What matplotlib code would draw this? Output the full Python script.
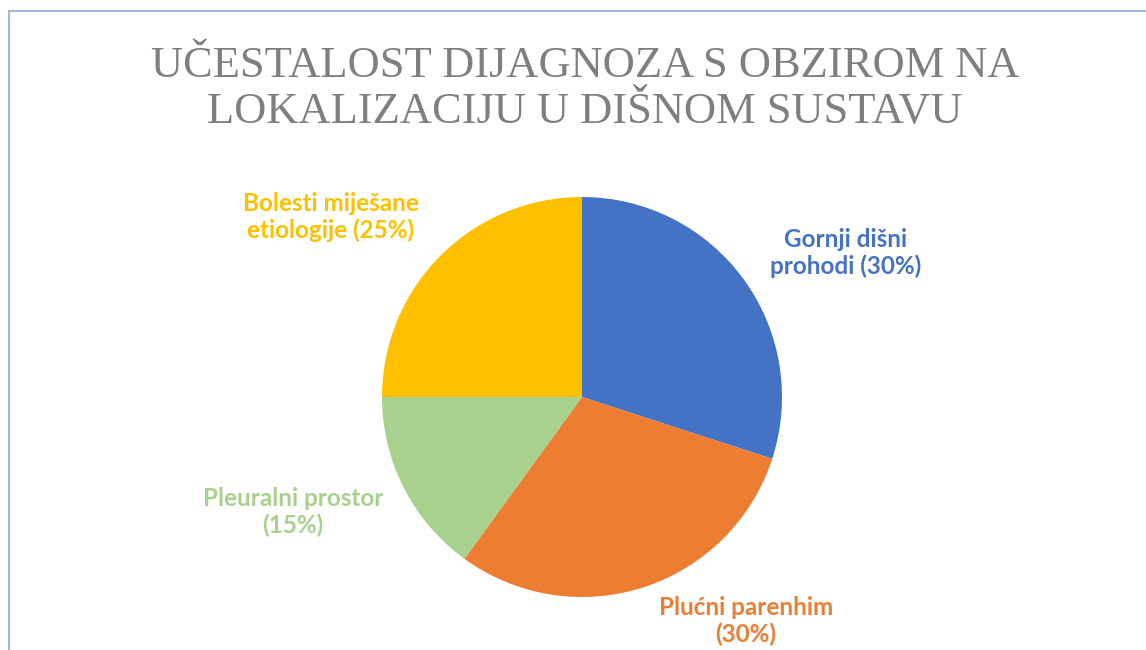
import matplotlib
matplotlib.use("Agg")
import matplotlib.pyplot as plt
from matplotlib.lines import Line2D

TITLE = "UČESTALOST DIJAGNOZA S OBZIROM NA\nLOKALIZACIJU U DIŠNOM SUSTAVU"

categories = [
    "Gornji dišni\nprohodi",
    "Plućni parenhim\n",
    "Pleuralni prostor\n",
    "Bolesti miješane\netiologije",
]
shares = [30, 30, 15, 25]
colors = ["#4472C4", "#ED7D31", "#A9D18E", "#FFC000"]

# label centres in pixels (x from left, y from top)
label_pos = [(846, 253), (746, 621), (293, 512), (331, 217)]

W, H = 1146, 650
fig = plt.figure(figsize=(W / 100, H / 100), dpi=100)
ax = fig.add_axes([0, 0, 1, 1])

ax.pie(
    shares,
    colors=colors,
    startangle=90,
    counterclock=False,
    center=(582, H - 397),
    radius=200,
    frame=True,
)
ax.set_xlim(0, W)
ax.set_ylim(0, H)
ax.set_aspect("equal")
ax.axis("off")

for cat, val, col, (px, py) in zip(categories, shares, colors, label_pos):
    if cat.endswith("\n"):
        txt = f"{cat}({val}%)"
    else:
        txt = f"{cat} ({val}%)"
    ax.text(px, H - py, txt, color=col, fontsize=17.5, fontweight="bold",
            family="Lato", ha="center", va="center", linespacing=1.2)

fig.text(585 / W, 1 - 89 / H, TITLE, ha="center", va="center",
         fontsize=32, family="Liberation Serif", color="#7F7F7F",
         linespacing=1.2)

# chart-area border (left and top edges)
border = "#8FAADC"
fig.add_artist(Line2D([9 / W, 9 / W], [0, 1 - 11 / H], color=border, lw=1.2))
fig.add_artist(Line2D([9 / W, 1], [1 - 11 / H, 1 - 11 / H], color=border, lw=1.2))

fig.savefig("out.png", dpi=100)
